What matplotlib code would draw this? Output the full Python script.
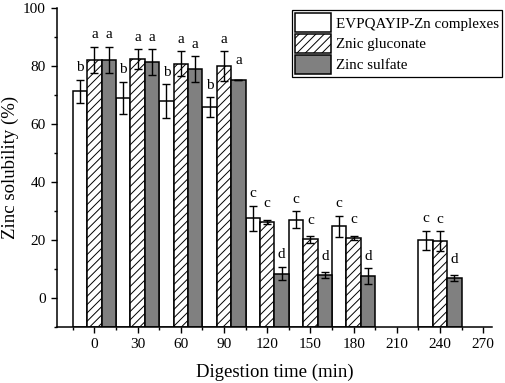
import numpy as np
import matplotlib
matplotlib.use("Agg")
import matplotlib.pyplot as plt
from matplotlib.ticker import MultipleLocator

plt.rcParams['font.family'] = ['Liberation Serif', 'DejaVu Serif']
plt.rcParams['hatch.linewidth'] = 0.7
plt.rcParams['hatch.color'] = '#555555'

# данные
times = [0, 30, 60, 90, 120, 150, 180, 240]
peptide = [71.3, 69.0, 67.9, 65.9, 27.6, 27.0, 24.8, 19.9]
peptide_err = [4.0, 5.6, 5.9, 3.4, 4.3, 3.0, 3.6, 3.4]
gluconate = [82.2, 82.4, 80.8, 80.1, 26.2, 20.2, 20.7, 19.7]
gluconate_err = [4.5, 3.5, 4.4, 5.1, 0.6, 1.3, 0.7, 3.3]
sulfate = [82.2, 81.4, 78.9, 75.3, 8.4, 7.9, 7.7, 6.8]
sulfate_err = [4.5, 4.5, 4.5, 0.0, 2.2, 1.0, 2.7, 1.0]

peptide_lbl = ['b', 'b', 'b', 'b', 'c', 'c', 'c', 'c']
gluconate_lbl = ['a', 'a', 'a', 'a', 'c', 'c', 'c', 'c']
sulfate_lbl = ['a', 'a', 'a', 'a', 'd', 'd', 'd', 'd']

names = ['EVPQAYIP-Zn complexes', 'Znic gluconate', 'Zinc sulfate']

fig = plt.figure(figsize=(5.05, 3.83), dpi=100)
ax = fig.add_axes([0.113, 0.146, 0.861, 0.833])

base = -10  # столбцы начинаются от нижней границы оси
t = np.array(times)
w = 10
series = [
    (t - w, peptide, peptide_err, peptide_lbl, dict(color='white', hatch=None)),
    (t, gluconate, gluconate_err, gluconate_lbl, dict(color='white', hatch='////')),
    (t + w, sulfate, sulfate_err, sulfate_lbl, dict(color='#808080', hatch=None)),
]

for (x, y, e, lbl, st), name in zip(series, names):
    y = np.array(y)
    ax.bar(x, y - base, bottom=base, width=w, color=st['color'], hatch=st['hatch'],
           edgecolor='black', linewidth=1.1, label=name, zorder=2)
    ax.errorbar(x, y, yerr=e, fmt='none', ecolor='black', elinewidth=1.0,
                capsize=3, capthick=1.0, zorder=3)
    for xi, yi, ei, s in zip(x, y, e, lbl):
        ax.text(xi, yi + max(ei, 2.5) + 1.8, s, ha='center', va='bottom',
                fontsize=11)

ax.set_xlim(-26, 276)
ax.set_ylim(-10, 100)
ax.xaxis.set_major_locator(MultipleLocator(30))
ax.xaxis.set_minor_locator(MultipleLocator(30, offset=15))
ax.yaxis.set_major_locator(MultipleLocator(20))
ax.yaxis.set_minor_locator(MultipleLocator(10))
ax.tick_params(which='major', length=4.5, width=1.0, direction='out', labelsize=11)
ax.tick_params(which='minor', length=2.5, width=1.0, direction='out')
ax.spines['top'].set_visible(False)
ax.spines['right'].set_visible(False)
for s in ['left', 'bottom']:
    ax.spines[s].set_linewidth(1.1)

ax.set_xlabel('Digestion time (min)', fontsize=13.5, labelpad=9)
ax.set_ylabel('Zinc solubility (%)', fontsize=13.5, labelpad=3)

leg = ax.legend(loc='upper right', bbox_to_anchor=(0.994, 0.974),
                bbox_transform=fig.transFigure, fontsize=10.8, frameon=True,
                fancybox=False, edgecolor='black', framealpha=1,
                handlelength=2.4, handleheight=1.6, labelspacing=0.1,
                handletextpad=0.3, borderpad=0.2, borderaxespad=0)
leg.get_frame().set_linewidth(0.9)

fig.savefig('out.png', dpi=100)
